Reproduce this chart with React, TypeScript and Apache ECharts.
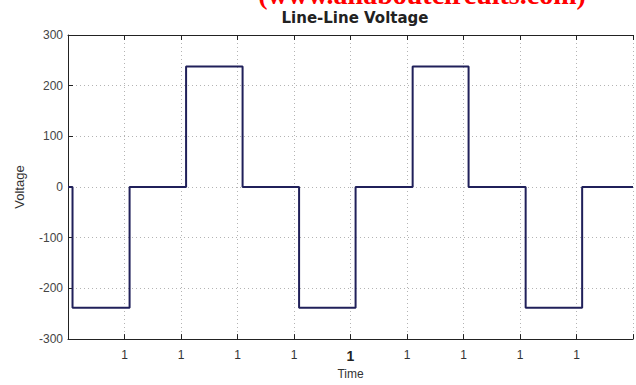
import React, { useEffect, useRef } from "react";
import * as echarts from "echarts";

const chartTitle = "Line-Line Voltage";
const watermarkText = "(www.allaboutcircuits.com)";
const xAxisName = "Time";
const yAxisName = "Voltage";
const xTickValues = [1, 2, 3, 4, 5, 6, 7, 8, 9];
const xTickLabels = ["1", "1", "1", "1", "1", "1", "1", "1", "1"];
const boldTickValue = 5;
const xRange = [0, 10];
const yRange = [-300, 300];
const switchTimes = [0.08, 1.09, 2.09, 3.09, 4.09, 5.09, 6.1, 7.09, 8.1, 9.1];
const voltageLevels = [0, -238, 0, 238, 0, -238, 0, 238, 0, -238, 0];

export default function App() {
  const ref = useRef<HTMLDivElement>(null);
  useEffect(() => {
    if (!ref.current) return;
    const chart = echarts.init(ref.current, undefined, { renderer: "svg" });
    const data: [number, number][] = [[xRange[0], voltageLevels[0]]];
    switchTimes.forEach((t, i) => data.push([t, voltageLevels[i + 1]]));
    data.push([xRange[1], voltageLevels[voltageLevels.length - 1]]);

    const gridLine = { show: true, lineStyle: { color: "#b4b4b4", type: [1, 3] as any, width: 1 } };
    const axisLine = { show: true, onZero: false, lineStyle: { color: "#222", width: 1 } };
    const tick = { show: true, inside: true, length: 5, lineStyle: { color: "#222" } };

    chart.setOption({
      animation: false,
      backgroundColor: "#ffffff",
      grid: { left: 68, right: -7, top: 35, bottom: 38, containLabel: false },
      graphic: [
        {
          type: "text",
          x: 422,
          y: -6,
          style: {
            text: watermarkText,
            align: "center",
            verticalAlign: "middle",
            font: "bold 28px 'Liberation Serif', serif",
            fill: "#ff0000",
          },
        },
        {
          type: "text",
          x: 355,
          y: 18,
          style: {
            text: chartTitle,
            align: "center",
            verticalAlign: "middle",
            font: "bold 15px 'DejaVu Sans', sans-serif",
            fill: "#222",
          },
        },
      ],
      xAxis: [
        {
          type: "value",
          min: xRange[0],
          max: xRange[1],
          interval: 1,
          position: "bottom",
          name: xAxisName,
          nameLocation: "middle",
          nameGap: 28,
          nameTextStyle: { fontSize: 12, color: "#333", fontFamily: "Liberation Sans, Arial" },
          axisLine,
          axisTick: tick,
          splitLine: gridLine,
          axisLabel: {
            margin: 10,
            fontSize: 12,
            color: "#333",
            fontFamily: "Liberation Sans, Arial",
            formatter: (v: number) => {
              const i = xTickValues.indexOf(v);
              if (i < 0) return "";
              return v === boldTickValue ? "{b|" + xTickLabels[i] + "}" : xTickLabels[i];
            },
            rich: { b: { fontSize: 14, fontWeight: "bold", color: "#222", fontFamily: "Liberation Sans, Arial" } },
          },
        },
        {
          type: "value",
          min: xRange[0],
          max: xRange[1],
          interval: 1,
          position: "top",
          axisLine,
          axisTick: tick,
          axisLabel: { show: false },
          splitLine: { show: false },
        },
      ],
      yAxis: {
        type: "value",
        min: yRange[0],
        max: yRange[1],
        interval: 100,
        name: yAxisName,
        nameLocation: "middle",
        nameGap: 42,
        nameTextStyle: { fontSize: 13, color: "#333", fontFamily: "Liberation Sans, Arial" },
        axisLine,
        axisTick: tick,
        splitLine: gridLine,
        axisLabel: { margin: 5, fontSize: 12, color: "#444", fontFamily: "Liberation Sans, Arial" },
      },
      series: [
        {
          type: "line",
          step: "end",
          data,
          showSymbol: false,
          symbol: "none",
          xAxisIndex: 0,
          lineStyle: { color: "#20205a", width: 2 },
        },
      ],
    });
    return () => chart.dispose();
  }, []);
  return (
    <div
      ref={ref}
      style={{ position: "absolute", left: 0, top: 0, width: 636, height: 385, background: "#fff" }}
    />
  );
}
